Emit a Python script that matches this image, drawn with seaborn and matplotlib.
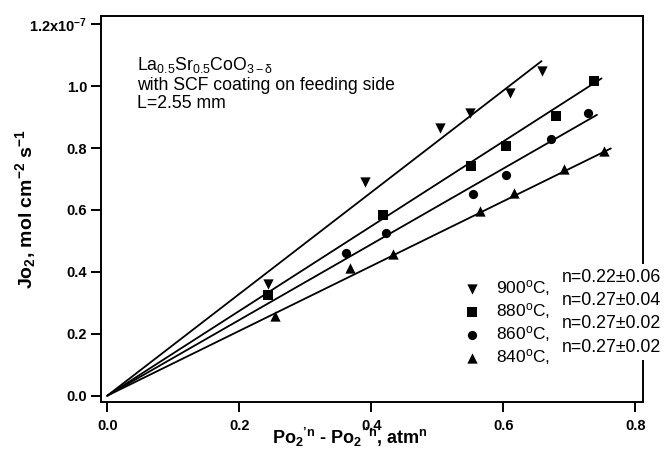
import matplotlib
matplotlib.use("Agg")
import matplotlib.pyplot as plt
import numpy as np
import pandas as pd
import seaborn as sns

# ---------------- data (y in units of 1e-7 mol cm^-2 s^-1) ----------------
temps = ["900", "880", "860", "840"]
n_values = ["n=0.22\u00b10.06", "n=0.27\u00b10.04", "n=0.27\u00b10.02", "n=0.27\u00b10.02"]

x900 = [0.244, 0.390, 0.504, 0.549, 0.610, 0.658]
y900 = [0.360, 0.691, 0.864, 0.912, 0.979, 1.050]
x880 = [0.244, 0.418, 0.551, 0.604, 0.680, 0.737]
y880 = [0.325, 0.584, 0.742, 0.808, 0.904, 1.018]
x860 = [0.362, 0.422, 0.554, 0.604, 0.672, 0.729]
y860 = [0.462, 0.525, 0.652, 0.713, 0.828, 0.914]
x840 = [0.254, 0.368, 0.433, 0.564, 0.617, 0.692, 0.752]
y840 = [0.258, 0.412, 0.458, 0.597, 0.656, 0.732, 0.790]

# linear fits through origin: slope (1e-7 per atm^n) and last x of the drawn line
fit_slope = [1.643, 1.369, 1.223, 1.047]
fit_xend = [0.658, 0.749, 0.742, 0.763]

xticks = [0.0, 0.2, 0.4, 0.6, 0.8]
xticklabels = ["0.0", "0.2", "0.4", "0.6", "0.8"]
yticks = [0.0, 0.2, 0.4, 0.6, 0.8, 1.0, 1.2]
yticklabels = ["0.0", "0.2", "0.4", "0.6", "0.8", "1.0", "1.2x10$^{-7}$"]

xs = [x900, x880, x860, x840]
ys = [y900, y880, y860, y840]

# ---------------- style ----------------
sns.set_style("ticks")
plt.rcParams["font.family"] = ["Liberation Sans", "DejaVu Sans"]
plt.rcParams["mathtext.fontset"] = "custom"
plt.rcParams["mathtext.rm"] = "Liberation Sans"
plt.rcParams["mathtext.it"] = "Liberation Sans:italic"
plt.rcParams["mathtext.bf"] = "Liberation Sans:bold"
plt.rcParams["mathtext.default"] = "regular"
plt.rcParams["text.color"] = "black"
plt.rcParams["axes.labelcolor"] = "black"

markers = {"900": "v", "880": "s", "860": "o", "840": "^"}
sizes = {"900": 55, "880": 42, "860": 44, "840": 55}

fig = plt.figure(figsize=(6.68, 4.51), dpi=100)
ax = fig.add_axes([101 / 668, 49 / 451, 542 / 668, 386 / 451])

points = pd.concat(
    [pd.DataFrame({"temp": t, "x": x, "y": y}) for t, x, y in zip(temps, xs, ys)],
    ignore_index=True,
)
fits = pd.concat(
    [pd.DataFrame({"temp": t, "x": [0.0, xe], "y": [0.0, s * xe]})
     for t, s, xe in zip(temps, fit_slope, fit_xend)],
    ignore_index=True,
)

for t in temps:
    sub = fits[fits["temp"] == t]
    sns.lineplot(data=sub, x="x", y="y", ax=ax, color="black", lw=1.3,
                 legend=False, sort=False, estimator=None)

handles = []
for t in temps:
    sub = points[points["temp"] == t]
    sns.scatterplot(data=sub, x="x", y="y", ax=ax, color="black",
                    marker=markers[t], s=sizes[t], linewidth=0, legend=False,
                    zorder=4)
    handles.append(ax.collections[-1])

ax.set_xlim(-0.0095, 0.8117)
ax.set_ylim(-0.0204, 1.2268)

ax.set_xticks(xticks)
ax.set_xticklabels(xticklabels, fontsize=10.5, fontweight="bold")
ax.set_yticks(yticks)
ax.set_yticklabels(yticklabels, fontsize=10.5, fontweight="bold")
ax.tick_params(direction="out", length=7, width=1.4, colors="black", pad=3)
ax.tick_params(axis="x", pad=5)
for sp in ax.spines.values():
    sp.set_visible(True)
    sp.set_linewidth(1.4)
    sp.set_color("black")

ax.set_xlabel("Po$_2$$^{\u2019n}$ - Po$_2$$^{\u2019\u2019n}$, atm$^n$",
              fontsize=13, fontweight="bold")
ax.set_ylabel("Jo$_2$, mol cm$^{-2}$ s$^{-1}$", fontsize=14, fontweight="bold")
ax.xaxis.set_label_coords(0.459, -0.062)
ax.yaxis.set_label_coords(-0.117, 0.5)

# annotation text
ax.text(0.0664, 0.860, "La$_{0.5}$Sr$_{0.5}$CoO$_{3-\u03b4}$", transform=ax.transAxes,
        fontsize=12.7, va="baseline", ha="left")
ax.text(0.0664, 0.808, "with SCF coating on feeding side", transform=ax.transAxes,
        fontsize=12.7, va="baseline", ha="left")
ax.text(0.0664, 0.762, "L=2.55 mm", transform=ax.transAxes,
        fontsize=12.7, va="baseline", ha="left")

# legend
labels = [f"{t}$^o$C," for t in temps]
leg = ax.legend(handles, labels, loc="upper left", bbox_to_anchor=(0.656, 0.338),
                frameon=True, fontsize=12.5, handlelength=1.0, handletextpad=0.9,
                borderpad=0.4, labelspacing=0.16, borderaxespad=0)
leg.get_frame().set_facecolor("white")
leg.get_frame().set_edgecolor("none")
leg.get_frame().set_alpha(1)

# n values beside the legend (cover the right spine as in the reference)
baseline_px = [281.7, 305.0, 328.3, 351.6]
for nv, ypx in zip(n_values, baseline_px):
    ax.text((561.7 - 101) / 542, (402 - ypx) / 386, nv, transform=ax.transAxes,
            fontsize=12.8, ha="left", va="baseline", zorder=6, clip_on=False,
            bbox=dict(facecolor="white", edgecolor="none", pad=3.5))

fig.savefig("out.png", dpi=100)
